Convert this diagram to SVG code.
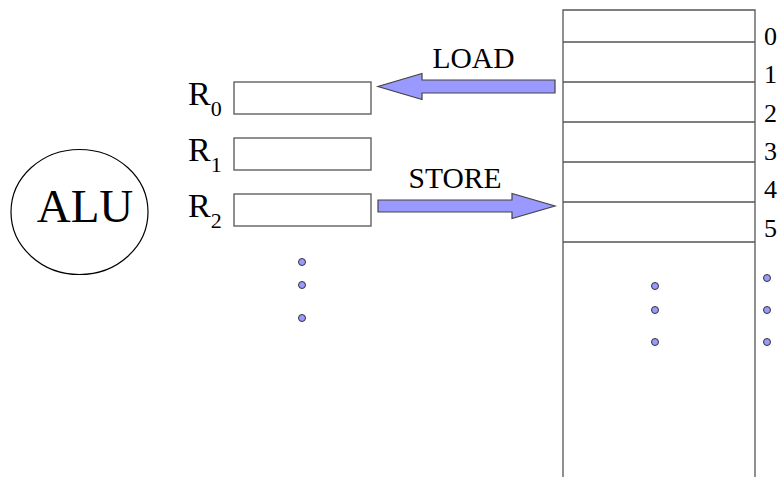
<svg xmlns="http://www.w3.org/2000/svg" width="782" height="477" viewBox="0 0 782 477">
<defs>
<style>
.reg{fill:#fff;stroke:#555;stroke-width:1.3}
.mem{fill:none;stroke:#555;stroke-width:1.3}
.arrow{fill:#9999ff;stroke:#444;stroke-width:1.2}
.dot{fill:#9999ff;stroke:#333;stroke-width:1}
</style>
</defs>
<rect width="782" height="477" fill="#fff"/>
<g id="alu">
<ellipse cx="79.5" cy="212" rx="68.5" ry="62.5" fill="#fff" stroke="#000" stroke-width="1.2"/>
<text x="85" y="222" font-family="Liberation Serif" font-size="47" text-anchor="middle">ALU</text>
</g>
<g id="r0">
<rect class="reg" x="234" y="82" width="137" height="32"/>
<text x="188" y="105" font-family="Liberation Serif" font-size="34">R<tspan font-size="22" dy="11">0</tspan></text>
</g>
<g id="r1">
<rect class="reg" x="234" y="138" width="137" height="32"/>
<text x="188" y="161" font-family="Liberation Serif" font-size="34">R<tspan font-size="22" dy="11">1</tspan></text>
</g>
<g id="r2">
<rect class="reg" x="234" y="194" width="137" height="32"/>
<text x="188" y="217" font-family="Liberation Serif" font-size="34">R<tspan font-size="22" dy="11">2</tspan></text>
</g>
<g id="reg-dots">
<circle class="dot" cx="302" cy="262" r="3.5"/>
<circle class="dot" cx="302" cy="285" r="3.5"/>
<circle class="dot" cx="302" cy="318" r="3.5"/>
</g>
<g id="memory">
<path class="mem" d="M563 477V10H755V477M563 42H755M563 82H755M563 122H755M563 162H755M563 202H755M563 242H755"/>
<text x="764" y="45" font-family="Liberation Serif" font-size="26">0</text>
<text x="764" y="83" font-family="Liberation Serif" font-size="26">1</text>
<text x="764" y="122" font-family="Liberation Serif" font-size="26">2</text>
<text x="764" y="160" font-family="Liberation Serif" font-size="26">3</text>
<text x="764" y="198" font-family="Liberation Serif" font-size="26">4</text>
<text x="764" y="237" font-family="Liberation Serif" font-size="26">5</text>
<circle class="dot" cx="655" cy="286" r="3.5"/>
<circle class="dot" cx="655" cy="310" r="3.5"/>
<circle class="dot" cx="655" cy="342" r="3.5"/>
<circle class="dot" cx="767" cy="278" r="3.5"/>
<circle class="dot" cx="767" cy="310" r="3.5"/>
<circle class="dot" cx="767" cy="342" r="3.5"/>
</g>
<g id="connectors">
<path class="arrow" d="M555 80H422V73.5L378 86.5L422 99.5V93H555Z"/>
<text x="473.5" y="68" font-family="Liberation Serif" font-size="29.5" text-anchor="middle">LOAD</text>
<path class="arrow" d="M378 200H512V193.5L555 206L512 218.5V212H378Z"/>
<text x="455" y="188" font-family="Liberation Serif" font-size="29.5" text-anchor="middle">STORE</text>
</g>
</svg>
